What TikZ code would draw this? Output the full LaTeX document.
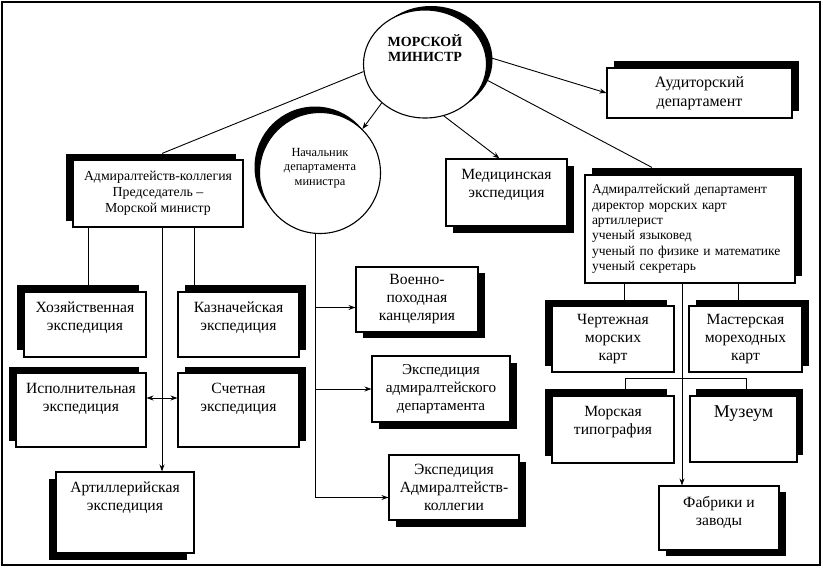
\documentclass[tikz,border=0pt]{standalone}
\usepackage{fontspec}
\setmainfont{Liberation Serif}
\usetikzlibrary{shapes.geometric,shadows,arrows.meta}

\tikzstyle{dept}=[draw,fill=white,line width=1.1pt,inner sep=0pt,align=center]
\tikzstyle{chief}=[draw,fill=white,line width=1.1pt,inner sep=0pt]
\tikzstyle{uptext}=[align=center,anchor=north,inner sep=0pt,yshift=-10.5pt]
\tikzstyle{link}=[draw,line width=0.9pt]
\tikzset{castshadow/.style 2 args={drop shadow={shadow xshift=#1,shadow yshift=#2,opacity=1,fill=black}}}

\begin{document}
\begin{tikzpicture}[x=1pt, y=-1pt, >={Stealth[length=7pt,width=5pt]}, font=\fontsize{15.6}{18}\selectfont]
\useasboundingbox (0,0) rectangle (823,568);
\draw[line width=1.5pt] (2,2) rectangle (820,565);

% heads
\node[chief, ellipse, castshadow={6pt}{4pt}, minimum width=123, minimum height=108,
      label={[font=\fontsize{14}{15}\selectfont\bfseries, align=center, yshift=16pt]center:{МОРСКОЙ\\МИНИСТР}}] (min) at (425,64) {};
\node[chief, circle, castshadow={-5pt}{6pt}, minimum size=121,
      label={[font=\fontsize{12.4}{14.5}\selectfont, align=center, yshift=5pt]center:{Начальник\\департамента\\министра}}] (nach) at (320,173) {};

% left group
\node[dept, castshadow={-7pt}{6pt}, minimum width=170, minimum height=67, font=\fontsize{13.8}{16}\selectfont] (admcol) at (158,193.5) {Адмиралтейств-коллегия\\Председатель –\\Морской министр};
\node[dept, castshadow={-7pt}{7pt}, minimum width=122, minimum height=65, label={[uptext]north:{Хозяйственная\\экспедиция}}] (hoz) at (85,324.5) {};
\node[dept, castshadow={7pt}{7pt}, minimum width=121, minimum height=65, label={[uptext]north:{Казначейская\\экспедиция}}] (kazn) at (238.5,324.5) {};
\node[dept, castshadow={-7pt}{6pt}, minimum width=130, minimum height=74, label={[uptext]north:{Исполнительная\\экспедиция}}] (isp) at (81,410) {};
\node[dept, castshadow={7pt}{6pt}, minimum width=121, minimum height=74, label={[uptext]north:{Счетная\\экспедиция}}] (schet) at (238.5,410) {};
\node[dept, castshadow={-7pt}{-7pt}, minimum width=138, minimum height=81, label={[uptext]north:{Артиллерийская\\экспедиция}}] (art) at (125,512.5) {};

% middle group
\node[dept, castshadow={7pt}{-6pt}, minimum width=122, minimum height=65] (voen) at (417,299.5) {Военно-\\походная\\канцелярия};
\node[dept, castshadow={7pt}{-7pt}, minimum width=138, minimum height=66, font=\fontsize{15.2}{18}\selectfont] (eksad) at (441,389) {Экспедиция\\адмиралтейского\\департамента};
\node[dept, castshadow={7pt}{-7pt}, minimum width=130, minimum height=65] (ekskol) at (454,487.5) {Экспедиция\\Адмиралтейств-\\коллегии};

% right group
\node[dept, castshadow={7pt}{7pt}, minimum width=185, minimum height=50, font=\fontsize{16}{19}\selectfont] (aud) at (699.5,93) {Аудиторский\\департамент};
\node[dept, castshadow={7pt}{-7pt}, minimum width=121, minimum height=67, label={[uptext]north:{Медицинская\\экспедиция}}] (med) at (506.5,192.5) {};
\node[dept, castshadow={7pt}{7pt}, minimum width=210, minimum height=108, text width=196, align=left, font=\fontsize{13.5}{15.3}\selectfont] (admdep) at (690,229)
     {Адмиралтейский департамент\\директор морских карт\\артиллерист\\ученый языковед\\ученый по физике и математике\\ученый секретарь};
\node[dept, castshadow={-7pt}{6pt}, minimum width=122, minimum height=66] (chert) at (613,339) {Чертежная\\морских\\карт};
\node[dept, castshadow={7pt}{6pt}, minimum width=113, minimum height=66] (mast) at (745.5,339) {Мастерская\\мореходных\\карт};
\node[dept, castshadow={-7pt}{7pt}, minimum width=122, minimum height=67, label={[uptext]north:{Морская\\типография}}] (morty) at (613,429.5) {};
\node[dept, castshadow={6pt}{7pt}, minimum width=107, minimum height=66, label={[uptext, font=\fontsize{18}{21}\selectfont]north:Музеум}] (muz) at (743.5,429) {};
\node[dept, castshadow={7pt}{-6pt}, minimum width=120, minimum height=64, label={[uptext]north:{Фабрики и\\заводы}}] (fab) at (719,518) {};

% links from the minister
\draw[link] (min.187) -- ([xshift=4pt,yshift=6pt]admcol.north);
\draw[link,->] (min.222) -- (nach.46);
\draw[link,->] (min.7) -- (aud.west);
\draw[link,->] (min.290) -- ([xshift=-7pt]med.north);
\draw[link] (min.346) -- ([xshift=-38pt,yshift=7pt]admdep.north);

% collegium
\draw[link] ([xshift=-70pt]admcol.south) -- ([xshift=-70pt]admcol.south |- hoz.north);
\draw[link,->] ([xshift=4pt]admcol.south) -- ([xshift=4pt]admcol.south |- art.north);
\draw[link] ([xshift=36pt]admcol.south) -- ([xshift=36pt]admcol.south |- kazn.north);
\draw[link,<->] ([yshift=12pt]isp.east) -- ([yshift=12pt]schet.west);

% department chief
\coordinate (trunk) at ([xshift=-5pt]nach.south);
\coordinate (voenin) at ([yshift=-8pt]voen.west);
\coordinate (kolin) at ([yshift=-10pt]ekskol.west);
\draw[link,->] (trunk) |- (kolin);
\draw[link,->] (trunk |- voenin) -- (voenin);
\draw[link,->] (trunk |- eksad.west) -- (eksad.west);

% admiralty department
\draw[link] ([xshift=-66pt]admdep.south) -- ([xshift=-66pt]admdep.south |- chert.north);
\draw[link] ([xshift=48pt]admdep.south) -- ([xshift=48pt]admdep.south |- mast.north);
\draw[link,->] ([xshift=-8pt]admdep.south) -- ([xshift=-8pt]admdep.south |- fab.north);
\draw[link] ([xshift=12pt]morty.north) -- ++(0,-17) -| ([xshift=3pt]muz.north);
\end{tikzpicture}
\end{document}
